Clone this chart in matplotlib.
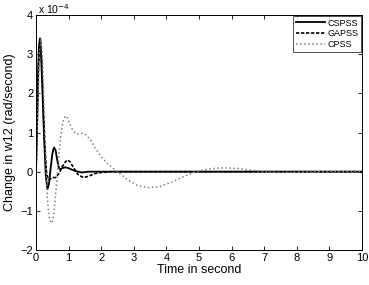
import numpy as np
import matplotlib
matplotlib.use('Agg')
import matplotlib.pyplot as plt

# values in units of 1e-4 rad/second
t_cs = [0, 0.03, 0.06, 0.09, 0.12, 0.15, 0.2, 0.25, 0.3, 0.35, 0.4, 0.45, 0.5,
        0.55, 0.6, 0.65, 0.7, 0.75, 0.8, 0.9, 1.0, 1.1, 1.2, 1.4, 1.6, 2.0, 10]
cspss = [0, 1.2, 2.4, 3.2, 3.4, 3.1, 2.0, 0.8, -0.1, -0.45, -0.3, 0.1, 0.45,
         0.62, 0.55, 0.3, 0.1, 0.06, 0.09, 0.11, 0.09, 0.05, 0.02, -0.02, 0.0, 0, 0]

t_ga = [0, 0.04, 0.08, 0.12, 0.14, 0.18, 0.22, 0.27, 0.32, 0.37, 0.42, 0.5, 0.6,
        0.7, 0.8, 0.9, 0.97, 1.05, 1.15, 1.3, 1.45, 1.6, 1.8, 2.0, 2.3, 10]
gapss = [0, 1.3, 2.8, 3.4, 3.35, 2.7, 1.7, 0.7, 0.0, -0.2, -0.2, -0.15, -0.15,
         -0.05, 0.12, 0.25, 0.3, 0.25, 0.1, -0.08, -0.15, -0.12, -0.05, -0.02, 0, 0]

t_cp = [0, 0.05, 0.1, 0.15, 0.2, 0.25, 0.3, 0.35, 0.4, 0.45, 0.5, 0.55, 0.6, 0.65,
        0.7, 0.75, 0.8, 0.85, 0.9, 0.95, 1.0, 1.1, 1.2, 1.3, 1.4, 1.5, 1.6, 1.7,
        1.8, 2.0, 2.2, 2.5, 2.8, 3.1, 3.45, 3.8, 4.2, 4.6, 4.9, 5.3, 5.75, 6.2,
        6.6, 7.0, 7.5, 8, 9, 10]
cpss = [0, 1.5, 3.0, 3.4, 2.9, 1.6, 0.3, -0.7, -1.15, -1.3, -1.3, -1.05, -0.6, -0.1,
        0.4, 0.85, 1.15, 1.35, 1.42, 1.4, 1.3, 1.1, 0.98, 0.96, 0.98, 0.96, 0.88, 0.78,
        0.62, 0.38, 0.2, 0.0, -0.2, -0.35, -0.41, -0.38, -0.25, -0.1, 0.0, 0.07, 0.1, 0.08,
        0.04, 0.0, -0.02, -0.01, 0, 0]

plt.rcParams['font.family'] = ['Liberation Sans', 'DejaVu Sans']
plt.rcParams['font.size'] = 8

fig = plt.figure(figsize=(3.69, 2.85), dpi=100)
ax = fig.add_axes([0.0976, 0.1228, 0.8834, 0.8245])

ax.plot(t_cs, cspss, color='black', linestyle='-', linewidth=1.3, label='CSPSS')
ax.plot(t_ga, gapss, color='black', linestyle='--', linewidth=1.2,
        dashes=(2, 1), label='GAPSS')
ax.plot(t_cp, cpss, color='0.5', linestyle=':', linewidth=1.1, label='CPSS')

ax.set_xlim(0, 10)
ax.set_ylim(-2, 4)
ax.set_xticks(range(0, 11))
ax.set_yticks(range(-2, 5))
ax.tick_params(direction='in', top=True, right=True, length=3, width=0.6,
               labelsize=8, pad=2)
for s in ax.spines.values():
    s.set_linewidth(0.7)

ax.text(0.005, 0.995, r'x 10$^{-4}$', transform=ax.transAxes, fontsize=7.5,
        ha='left', va='bottom')

ax.set_xlabel('Time in second', fontsize=9, labelpad=1)
ax.set_ylabel('Change in w12 (rad/second)', fontsize=9, labelpad=3)

leg = ax.legend(loc='upper right', fontsize=6.5, frameon=True, fancybox=False,
                edgecolor='black', borderpad=0.3, labelspacing=0.2,
                handlelength=3.2, handletextpad=0.3, borderaxespad=0.1)
leg.get_frame().set_linewidth(0.6)

fig.savefig('out.png', dpi=100)
